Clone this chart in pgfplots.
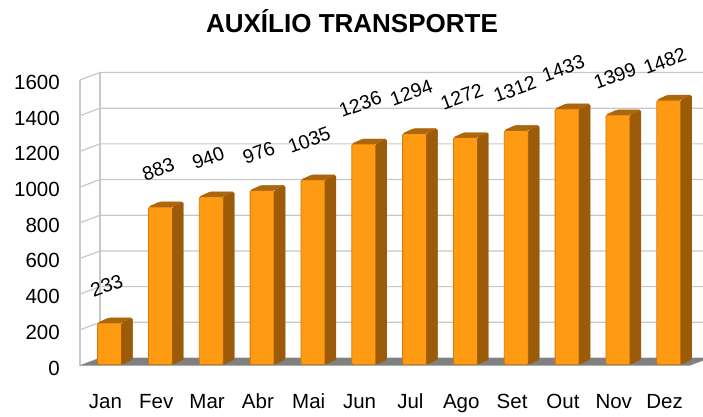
\documentclass[border=0pt]{standalone}
\usepackage{pgfplots}
\pgfplotsset{compat=1.18}
\usepackage{pgfplotstable}
\usepackage{fontspec}
\setmainfont{Liberation Sans}
\definecolor{barfront}{RGB}{255,155,18}
\definecolor{barline}{RGB}{214,122,8}
\definecolor{barside}{RGB}{156,91,9}
\definecolor{bartop}{RGB}{172,102,12}
\definecolor{floorgray}{RGB}{128,128,128}
\definecolor{wallgray}{RGB}{200,200,200}

\pgfplotstableread{
x v lx ly
0 233 1.2 37.1
1 883 2.0 37.7
2 940 1.2 38.8
3 976 0.9 37.8
4 1035 0.5 39.8
5 1236 0.7 39.9
6 1294 0.9 41.1
7 1272 0.5 41.0
8 1312 2.7 41.4
9 1433 0.4 40.5
10 1399 1.2 38.9
11 1482 0.2 39.0
}\data

\begin{document}
\begin{tikzpicture}
\useasboundingbox (0,0) rectangle (703pt,416pt);
\clip (0,0) rectangle (703pt,416pt);
\node[font=\fontsize{26}{30}\selectfont\bfseries, anchor=base, inner sep=0pt] at (352pt,383pt) {AUXÍLIO TRANSPORTE};
\begin{axis}[
  at={(80pt,50.5pt)}, anchor=south west,
  scale only axis, width=610pt, height=285.5pt,
  xmin=-0.5, xmax=11.5, ymin=0, ymax=1600,
  clip=false,
  axis line style={draw=none},
  major tick length=0pt,
  ytick={0,200,...,1600},
  xtick={0,...,11},
  xticklabels={Jan,Fev,Mar,Abr,Mai,Jun,Jul,Ago,Set,Out,Nov,Dez},
  /pgf/number format/.cd, 1000 sep={}, assume math mode=true, /pgfplots/.cd,
  tick label style={font=\fontsize{20.5}{24}\selectfont},
  yticklabel style={anchor=east, inner sep=0pt, xshift=-20pt, yshift=-2.5pt},
  xticklabel style={anchor=base, inner sep=0pt, yshift=-42.5pt},
]
% back wall grid lines and left wall
\pgfplotsinvokeforeach{0,200,...,1600}{
  \draw[wallgray, line width=1.2pt] (axis cs:-0.5,#1) -- ++(20pt,7.5pt) -- ([shift={(20pt,7.5pt)}]axis cs:11.5,#1);
}
\draw[wallgray, line width=1.2pt] (axis cs:-0.5,0) -- (axis cs:-0.5,1600);
\draw[wallgray, line width=1.2pt] ([shift={(20pt,7.5pt)}]axis cs:-0.5,0) -- ([shift={(20pt,7.5pt)}]axis cs:-0.5,1600);
% floor
\fill[floorgray] (axis cs:-0.5,0) -- (axis cs:11.5,0) -- ([shift={(20pt,7.5pt)}]axis cs:11.5,0) -- ([shift={(20pt,7.5pt)}]axis cs:-0.5,0) -- cycle;

% side and top faces of the bars
\addplot[scatter, only marks, mark=*, mark size=0pt,
  visualization depends on={\thisrow{v} \as \val},
  scatter/@pre marker code/.code={%
    \pgfmathsetmacro\hb{1-\val*0.1784375}%
    \pgfmathsetmacro\hc{6-\val*0.1784375}%
    \fill[barside, rounded corners=1.5pt] (16.2pt,1pt) -- (16.2pt,\hb pt) -- (27.2pt,\hc pt) -- (27.2pt,6pt) -- cycle;
    \fill[bartop, rounded corners=1.5pt] (-7.8pt,1pt) -- (16.2pt,1pt) -- (27.2pt,6pt) -- (3.2pt,6pt) -- cycle;
    \scope[opacity=0]
  },
  scatter/@post marker code/.code={\endscope},
] table[x=x, y=v] {\data};

% front faces
\addplot[ybar, bar width=24pt, bar shift=4.2pt, yshift=1pt,
  fill=barfront, draw=barline, line width=0.8pt, rounded corners=1.5pt,
  nodes near coords,
  visualization depends on={\thisrow{lx} \as \lx},
  visualization depends on={\thisrow{ly} \as \ly},
  every node near coord/.append style={font=\fontsize{19.5}{23}\selectfont, text=black,
    anchor=center, inner sep=0pt, xshift=\lx pt, yshift=\ly pt, rotate=20},
] table[x=x, y=v] {\data};
\end{axis}
\end{tikzpicture}
\end{document}
